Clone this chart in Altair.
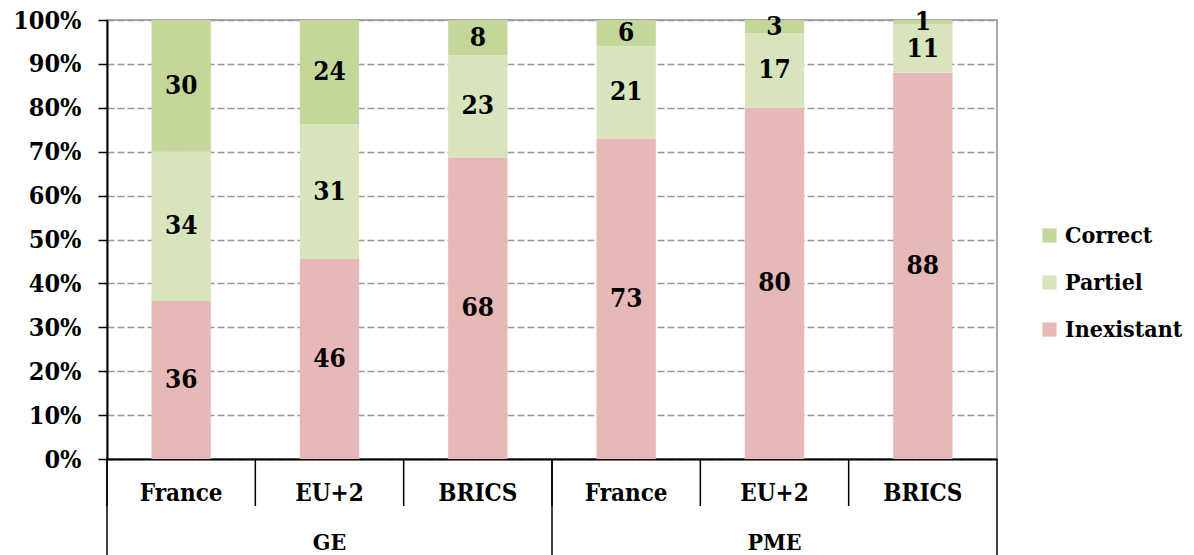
import altair as alt
import pandas as pd

groups = ["GE", "GE", "GE", "PME", "PME", "PME"]
countries = ["France", "EU+2", "BRICS", "France", "EU+2", "BRICS"]
inexistant = [36, 46, 68, 73, 80, 88]
partiel = [34, 31, 23, 21, 17, 11]
correct = [30, 24, 8, 6, 3, 1]
series = ["Correct", "Partiel", "Inexistant"]
colors = ["#C4D79B", "#D8E4BC", "#E6B8B7"]

FONT = "DejaVu Serif Condensed, Liberation Serif"
keys = [g + "|" + c for g, c in zip(groups, countries)]

rows = []
for i, k in enumerate(keys):
    vals = [("Inexistant", inexistant[i]), ("Partiel", partiel[i]), ("Correct", correct[i])]
    total = sum(v for _, v in vals)
    cum = 0
    for o, (s, v) in enumerate(vals):
        rows.append({"key": k, "series": s, "value": v, "order": o,
                     "mid": (cum + v / 2) / total})
        cum += v
df = pd.DataFrame(rows)

x_axis = alt.Axis(title=None, labelExpr="split(datum.label, '|')[1]", labelAngle=0,
                  ticks=False, domainColor="black", domainWidth=2, grid=False,
                  labelFont=FONT, labelFontWeight="bold", labelFontSize=24,
                  labelColor="black", labelPadding=22)
y_axis = alt.Axis(title=None, format=".0%", values=[i / 10 for i in range(11)],
                  tickColor="black", tickSize=9, tickWidth=1.5, domainColor="black",
                  domainWidth=2, grid=True, gridColor="#999999", gridDash=[7, 3],
                  gridWidth=1.5, labelFont=FONT, labelFontWeight="bold",
                  labelFontSize=25, labelColor="black", labelPadding=17)
x_scale = alt.Scale(domain=keys, paddingInner=0, paddingOuter=0)
y_scale = alt.Scale(domain=[0, 1])

base = alt.Chart(df)

bars = base.mark_bar(width=alt.RelativeBandSize(0.4)).encode(
    x=alt.X("key:N", sort=keys, scale=x_scale, axis=x_axis),
    y=alt.Y("value:Q", stack="normalize", scale=y_scale, axis=y_axis),
    color=alt.Color("series:N", scale=alt.Scale(domain=series, range=colors),
                    legend=alt.Legend(title=None, orient="none", legendX=931, legendY=204,
                                      symbolType="square", symbolSize=200,
                                      symbolStrokeWidth=0, labelFont=FONT,
                                      labelFontWeight="bold", labelFontSize=23,
                                      labelColor="black", rowPadding=23, labelOffset=4)),
    order=alt.Order("order:Q"),
)

labels = base.mark_text(font=FONT, fontWeight="bold", fontSize=26, color="black",
                        baseline="middle").encode(
    x=alt.X("key:N", sort=keys, scale=x_scale, axis=x_axis),
    y=alt.Y("mid:Q", scale=y_scale, axis=y_axis),
    text="value:Q",
)

div_df = pd.DataFrame({"key": keys})
dividers = alt.Chart(div_df).mark_rule(color="black", strokeWidth=1.5).encode(
    x=alt.X("key:N", sort=keys, scale=x_scale, axis=x_axis, bandPosition=0),
    y=alt.value(439), y2=alt.value(486),
)

grp_df = pd.DataFrame({"key": ["GE|France", "PME|France"]})
group_lines = alt.Chart(grp_df).mark_rule(color="black", strokeWidth=1.5).encode(
    x=alt.X("key:N", sort=keys, scale=x_scale, axis=x_axis, bandPosition=0),
    y=alt.value(439), y2=alt.value(545),
)
end_df = pd.DataFrame({"key": ["PME|BRICS"]})
end_line = alt.Chart(end_df).mark_rule(color="black", strokeWidth=1.5).encode(
    x=alt.X("key:N", sort=keys, scale=x_scale, axis=x_axis, bandPosition=1),
    y=alt.value(439), y2=alt.value(545),
)

glabel_df = pd.DataFrame({"key": ["GE|EU+2", "PME|EU+2"], "name": ["GE", "PME"]})
group_labels = alt.Chart(glabel_df).mark_text(font=FONT, fontWeight="bold", fontSize=23,
                                              color="black", baseline="middle").encode(
    x=alt.X("key:N", sort=keys, scale=x_scale, axis=x_axis),
    y=alt.value(523),
    text="name:N",
)

chart = alt.layer(bars, labels, dividers, group_lines, end_line, group_labels).properties(
    width=890, height=439,
    autosize=alt.AutoSizeParams(type="none"),
    padding={"left": 99, "top": 12, "right": 189, "bottom": 96},
).configure_view(stroke="#8c8c8c", strokeWidth=1.5)

chart.save("out.html", embed_options={"renderer": "svg", "actions": False})
